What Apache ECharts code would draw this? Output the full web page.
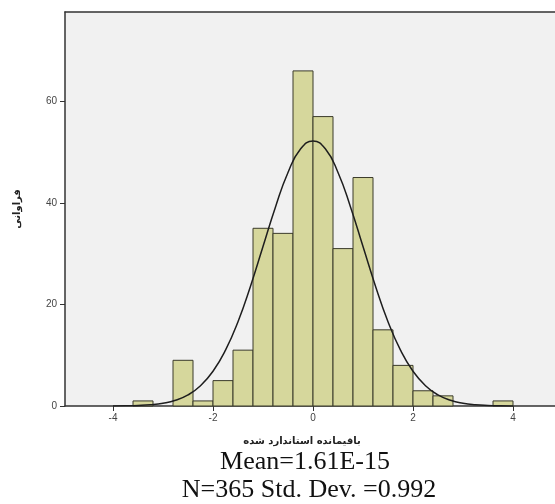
<!DOCTYPE html>
<html>
<head>
<meta charset="utf-8">
<script src="https://cdn.jsdelivr.net/npm/echarts@6/dist/echarts.min.js"></script>
<style>html,body{margin:0;padding:0;background:#fff}#c{width:555px;height:504px}</style>
</head>
<body>
<div id="c"></div>
<script>
// Histogram bins (left edge, right edge) and counts
var binStarts = [-3.6, -3.2, -2.8, -2.4, -2.0, -1.6, -1.2, -0.8, -0.4, 0.0, 0.4, 0.8, 1.2, 1.6, 2.0, 2.4, 2.8, 3.2, 3.6];
var binEnds   = [-3.2, -2.8, -2.4, -2.0, -1.6, -1.2, -0.8, -0.4, 0.0, 0.4, 0.8, 1.2, 1.6, 2.0, 2.4, 2.8, 3.2, 3.6, 4.0];
var counts    = [1, 0, 9, 1, 5, 11, 35, 34, 66, 57, 31, 45, 15, 8, 3, 2, 0, 0, 1];
// Normal curve points
var curveX = [-4.0, -3.75, -3.5, -3.25, -3.0, -2.75, -2.5, -2.25, -2.0, -1.75, -1.5, -1.25, -1.0, -0.75, -0.5, -0.25, 0.0, 0.25, 0.5, 0.75, 1.0, 1.25, 1.5, 1.75, 2.0, 2.25, 2.5, 2.75, 3.0, 3.25, 3.5, 3.75, 4.0];
var curveY = [0.02, 0.04, 0.10, 0.24, 0.54, 1.12, 2.18, 3.99, 6.84, 11.0, 16.6, 23.6, 31.4, 39.2, 46.0, 50.6, 52.2, 50.6, 46.0, 39.2, 31.4, 23.6, 16.6, 11.0, 6.84, 3.99, 2.18, 1.12, 0.54, 0.24, 0.10, 0.04, 0.02];
var xTicks = [-4, -2, 0, 2, 4];
var yTicks = [0, 20, 40, 60];
var xTitle = 'باقیمانده استاندارد شده';
var yTitle = 'فراوانی';
var statLine1 = 'Mean=1.61E-15';
var statLine2 = 'N=365 Std. Dev. =0.992';

var barData = binStarts.map(function (s, i) { return [s, binEnds[i], counts[i]]; });
var lineData = curveX.map(function (x, i) { return [x, curveY[i]]; });

var chart = echarts.init(document.getElementById('c'), null, {renderer: 'canvas'});
chart.setOption({
  animation: false,
  backgroundColor: '#ffffff',
  grid: {left: 65, top: 12, right: 0, bottom: 98, show: true, backgroundColor: '#f1f1f1', borderWidth: 0},
  xAxis: [{
    type: 'value', min: -4.96, max: 4.84,
    splitLine: {show: false},
    axisLine: {show: true, onZero: false, lineStyle: {color: '#333', width: 1.5}},
    axisTick: {show: true, customValues: xTicks, length: 5, lineStyle: {color: '#333'}},
    axisLabel: {customValues: xTicks, color: '#444', fontSize: 10, margin: 7, fontFamily: 'Arial'},
    name: xTitle, nameLocation: 'middle', nameGap: 30,
    nameTextStyle: {fontFamily: 'DejaVu Sans', fontWeight: 'bold', fontSize: 10, color: '#222', padding: [0, 16, 0, 0]}
  }, {
    type: 'value', position: 'top', min: -4.96, max: 4.84,
    splitLine: {show: false},
    axisLine: {show: true, onZero: false, lineStyle: {color: '#333', width: 1.5}},
    axisTick: {show: false}, axisLabel: {show: false}
  }],
  yAxis: {
    type: 'value', min: 0, max: 77.6,
    splitLine: {show: false},
    axisLine: {show: true, onZero: false, lineStyle: {color: '#333', width: 1.5}},
    axisTick: {show: true, customValues: yTicks, length: 5, lineStyle: {color: '#333'}},
    axisLabel: {customValues: yTicks, color: '#444', fontSize: 10, margin: 8, fontFamily: 'Arial'},
    name: yTitle, nameLocation: 'middle', nameGap: 43, nameRotate: 90,
    nameTextStyle: {fontFamily: 'DejaVu Sans', fontWeight: 'bold', fontSize: 10, color: '#222'}
  },
  series: [{
    type: 'custom',
    renderItem: function (params, api) {
      var p0 = api.coord([api.value(0), api.value(2)]);
      var p1 = api.coord([api.value(1), 0]);
      if (api.value(2) <= 0) return;
      return {
        type: 'rect',
        shape: {x: p0[0], y: p0[1], width: p1[0] - p0[0], height: p1[1] - p0[1]},
        style: {fill: '#d6d79c', stroke: '#3a3a2a', lineWidth: 1}
      };
    },
    encode: {x: [0, 1], y: 2},
    data: barData,
    z: 2
  }, {
    type: 'line', smooth: true, showSymbol: false, data: lineData,
    lineStyle: {color: '#1e1e1e', width: 1.5}, z: 3
  }],
  graphic: [{
    type: 'text', x: 305, y: 449,
    style: {text: statLine1, font: '26px "Liberation Serif"', fill: '#111', textAlign: 'center', textVerticalAlign: 'top'}
  }, {
    type: 'text', x: 309, y: 477,
    style: {text: statLine2, font: '26px "Liberation Serif"', fill: '#111', textAlign: 'center', textVerticalAlign: 'top'}
  }]
});
</script>
</body>
</html>
